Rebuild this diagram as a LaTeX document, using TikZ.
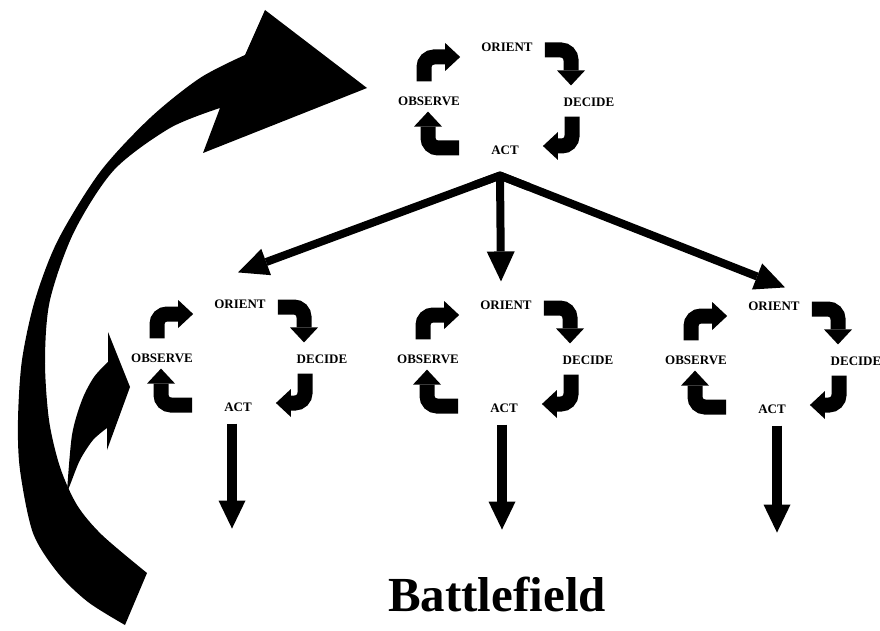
\documentclass[tikz,border=0pt]{standalone}
\usepackage{fontspec}
\setmainfont{Liberation Serif}
\usetikzlibrary{arrows.meta,calc}
\tikzset{
  lbl/.style={font=\fontsize{13}{15}\selectfont\bfseries, inner sep=0pt},
  cyc/.style={line width=15pt, rounded corners=10pt,
    -{Triangle[width=28pt,length=15pt,line width=0pt]}},
  fan/.style={line width=8pt, -{Triangle[width=28pt,length=30pt,line width=0pt]}},
  downarrow/.style={line width=10pt, -{Triangle[width=27pt,length=28pt,line width=0pt]}},
  bigtitle/.style={font=\fontsize{49}{52}\selectfont\bfseries, inner sep=0pt, anchor=base},
  ooda/.pic={
    \node[lbl] (-ori) at (0,0) {ORIENT};
    \node[lbl] (-obs) at (-78,54) {OBSERVE};
    \node[lbl] (-dec) at (82,55) {DECIDE};
    \node[lbl] (-act) at (-2,103) {ACT};
    \draw[cyc] ([shift={(-5,-15)}]-obs.north) |- ([shift={(-21,10)}]-ori.west);
    \draw[cyc] ([shift={(12,3)}]-ori.east) -| ([shift={(-18,-12)}]-dec.north);
    \draw[cyc] ([shift={(-17,10)}]-dec.south) |- ([shift={(24,-4)}]-act.east);
    \draw[cyc] ([shift={(-32,-2)}]-act.west) -| ([shift={(-1,6)}]-obs.south);
  }
}
\begin{document}
\begin{tikzpicture}[x=1pt,y=-1pt]
\useasboundingbox (0,0) rectangle (880,631);
% big curved arrow
\fill plot[smooth] coordinates {(125,625) (88,602) (58,573) (33,533) (20,470) (18,420) (22,360) (35,300) (58,240) (100,172) (150,118) (200,78) (245,55)}
  -- (265,10) -- (367,88) -- (203,153)
  -- plot[smooth] coordinates {(220,108) (170,128) (114,170) (74,232) (50,300) (45,360) (49,420) (60,467) (77,505) (102,535) (147,573)}
  -- cycle;
% small curved arrow
\fill plot[smooth] coordinates {(67,492) (72,435) (82,400) (94,377) (108,362)}
  -- (108,332) -- (130,387) -- (107,450) -- (107,428)
  -- plot[smooth] coordinates {(107,428) (93,440) (80,460) (70,485) (67,492)}
  -- cycle;
% cycles
\pic (top) at (507,47) {ooda};
\pic (left) at (240,304) {ooda};
\pic (mid) at (506,305) {ooda};
\pic (right) at (774,306) {ooda};
% fan
\coordinate (apex) at ([shift={(-5,21)}]top-act.south);
\coordinate (lt) at ([shift={(-2,-27)}]left-ori.north);
\coordinate (mt) at ([shift={(-5,-19)}]mid-ori.north);
\coordinate (rt) at ([shift={(11,-14)}]right-ori.north);
\draw[line width=8pt, miter limit=20] ($(apex)!0.1!(lt)$) -- (apex) -- ($(apex)!0.1!(rt)$);
\draw[fan] (apex) -- (lt);
\draw[fan] (apex) -- (mt);
\draw[fan] (apex) -- (rt);
% down arrows
\draw[downarrow] ([shift={(-6,12)}]left-act.south) -- ([shift={(-6,117)}]left-act.south);
\draw[downarrow] ([shift={(-2,12)}]mid-act.south) -- ([shift={(-2,117)}]mid-act.south);
\draw[downarrow] ([shift={(5,12)}]right-act.south) -- ([shift={(5,119)}]right-act.south);
% title
\node[bigtitle] (bf) at (497,611) {Battlefield};
\end{tikzpicture}
\end{document}
